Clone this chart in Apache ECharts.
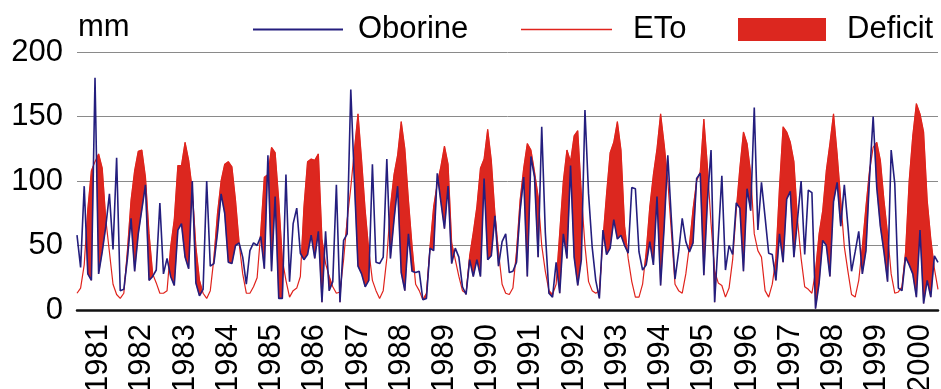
<!DOCTYPE html>
<html>
<head>
<meta charset="utf-8">
<script src="https://cdn.jsdelivr.net/npm/echarts@6/dist/echarts.min.js"></script>
<style>
  html, body { margin: 0; padding: 0; background: #ffffff; }
  #chart { width: 941px; height: 389px; }
</style>
</head>
<body>
<div id="chart"></div>
<script>
// Monthly precipitation (Oborine) and reference evapotranspiration (ETo), mm, 1981-2000
const years = [1981, 1982, 1983, 1984, 1985, 1986, 1987, 1988, 1989, 1990,
               1991, 1992, 1993, 1994, 1995, 1996, 1997, 1998, 1999, 2000];

const oborine = [
  58, 33, 96, 28, 23, 180, 28, 45, 65, 90, 47, 118,
  15, 16, 40, 71, 30, 59, 78, 97, 23, 26, 31, 83,
  28, 40, 26, 19, 62, 67, 41, 32, 100, 21, 11, 16,
  100, 34, 36, 60, 90, 75, 37, 36, 50, 52, 41, 20,
  46, 52, 50, 57, 32, 120, 30, 88, 9, 9, 105, 22,
  67, 79, 44, 39, 43, 58, 40, 61, 6, 61, 15, 22,
  97, 6, 54, 59, 171, 100, 34, 28, 18, 23, 113, 37,
  36, 41, 117, 40, 70, 96, 29, 15, 59, 30, 29, 30,
  8, 9, 48, 46, 106, 84, 63, 96, 36, 48, 41, 18,
  12, 39, 26, 39, 26, 102, 39, 42, 73, 34, 53, 59,
  29, 30, 37, 77, 103, 26, 119, 103, 41, 142, 60, 13,
  10, 37, 13, 59, 40, 112, 41, 19, 39, 155, 90, 49,
  23, 9, 62, 43, 48, 70, 55, 58, 50, 44, 95, 94,
  45, 31, 35, 53, 35, 88, 19, 65, 120, 70, 24, 45,
  71, 53, 45, 52, 102, 106, 27, 85, 124, 6, 55, 104,
  31, 50, 43, 83, 79, 30, 94, 77, 157, 62, 99, 72,
  44, 43, 23, 59, 37, 86, 92, 41, 70, 100, 43, 93,
  91, 1, 21, 54, 50, 26, 84, 99, 65, 97, 65, 30,
  45, 61, 28, 46, 103, 150, 95, 65, 45, 22, 124, 98,
  17, 15, 41, 35, 28, 10, 62, 5, 23, 10, 42, 37
];

const eto = [
  13, 17, 35, 78, 108, 115, 121, 110, 70, 45, 20, 12,
  9, 13, 46, 85, 108, 123, 124, 103, 59, 28, 21, 13,
  13, 15, 49, 70, 112, 112, 130, 116, 93, 49, 23, 13,
  9, 15, 40, 75, 100, 113, 115, 111, 85, 52, 28, 13,
  13, 18, 25, 60, 103, 105, 126, 122, 85, 39, 23, 10,
  15, 17, 26, 80, 115, 117, 116, 121, 55, 36, 26, 18,
  13, 14, 39, 70, 95, 124, 152, 116, 77, 46, 23, 15,
  9, 15, 40, 80, 105, 120, 146, 125, 85, 50, 20, 15,
  8, 13, 49, 80, 98, 111, 127, 113, 52, 39, 26, 15,
  13, 42, 60, 80, 110, 117, 140, 116, 75, 45, 20, 13,
  12, 17, 45, 85, 110, 129, 124, 107, 88, 50, 30, 15,
  12, 20, 60, 100, 124, 115, 135, 139, 90, 50, 22, 15,
  13, 15, 55, 90, 122, 130, 146, 124, 65, 40, 22, 10,
  10, 20, 45, 80, 105, 125, 152, 128, 100, 60, 20, 15,
  13, 28, 50, 78, 100, 107, 148, 111, 67, 30, 21, 19,
  10, 17, 39, 77, 110, 138, 129, 106, 59, 46, 41, 15,
  10, 20, 40, 95, 142, 138, 130, 115, 70, 40, 18, 16,
  13, 30, 59, 77, 108, 129, 152, 121, 85, 49, 30, 12,
  10, 23, 49, 80, 108, 126, 130, 116, 85, 59, 28, 13,
  14, 18, 45, 100, 135, 160, 152, 138, 85, 55, 32, 16
];

const seriesNames = ['Oborine', 'ETo', 'Deficit'];
const unitLabel = 'mm';

// one category per month, e.g. "1981-07"
const months = [];
years.forEach(function (y) {
  for (let m = 1; m <= 12; m++) months.push(y + '-' + (m < 10 ? '0' + m : m));
});

const BLUE = '#241E7E';
const RED = '#E0231C';
const FILL = '#DC271F';
const FONT = "'Liberation Sans', Arial, Helvetica, sans-serif";

// Red area between ETo and precipitation wherever ETo exceeds precipitation.
// Crossing points are interpolated along the ETo segment in pixel space.
function renderDeficit(params, api) {
  if (params.dataIndex !== 0) return null;
  const n = eto.length;
  const polys = [];
  let upper = [], lower = [];
  for (let i = 0; i < n; i++) {
    const d = eto[i] - oborine[i];
    const pe = api.coord([i, eto[i]]);
    const pp = api.coord([i, oborine[i]]);
    if (d > 0) { upper.push(pe); lower.push(pp); }
    if (i < n - 1) {
      const d2 = eto[i + 1] - oborine[i + 1];
      if ((d > 0) !== (d2 > 0)) {
        const t = d / (d - d2);
        const pe2 = api.coord([i + 1, eto[i + 1]]);
        const cross = [pe[0] + t * (pe2[0] - pe[0]), pe[1] + t * (pe2[1] - pe[1])];
        if (d > 0) {
          upper.push(cross);
          polys.push(upper.concat(lower.slice().reverse()));
          upper = []; lower = [];
        } else {
          upper = [cross]; lower = [];
        }
      }
    }
  }
  if (upper.length > 1) polys.push(upper.concat(lower.slice().reverse()));
  return {
    type: 'group',
    children: polys.map(function (pts) {
      return {
        type: 'polygon',
        shape: { points: pts },
        style: { fill: FILL, stroke: FILL, lineWidth: 0.6 }
      };
    })
  };
}

const chart = echarts.init(document.getElementById('chart'), null, { renderer: 'canvas' });

const legendText = { fontFamily: FONT, fontSize: 31, color: '#000' };

chart.setOption({
  animation: false,
  backgroundColor: '#ffffff',
  title: {
    text: unitLabel,
    left: 78, top: 12, padding: 0,
    textStyle: { fontFamily: FONT, fontSize: 31, fontWeight: 'normal', color: '#000' }
  },
  legend: [
    { data: [{ name: seriesNames[0], icon: 'rect', itemStyle: { color: BLUE } }],
      left: 253, top: 14, padding: 0, itemWidth: 90, itemHeight: 2,
      textStyle: Object.assign({ padding: [0, 0, 0, 10] }, legendText) },
    { data: [{ name: seriesNames[1], icon: 'rect', itemStyle: { color: RED } }],
      left: 521, top: 14, padding: 0, itemWidth: 91, itemHeight: 1.5,
      textStyle: Object.assign({ padding: [0, 0, 0, 16] }, legendText) },
    { data: [{ name: seriesNames[2], icon: 'rect', itemStyle: { color: FILL } }],
      left: 738, top: 14, padding: 0, itemWidth: 88, itemHeight: 23,
      textStyle: Object.assign({ padding: [0, 0, 0, 16] }, legendText) }
  ],
  grid: { left: 77, right: 3, top: 52, bottom: 79, containLabel: false, outerBoundsMode: 'none' },
  xAxis: {
    type: 'category',
    data: months,
    boundaryGap: false,
    axisLine: { show: true, lineStyle: { color: '#111', width: 2.5 } },
    axisTick: { show: false },
    splitLine: { show: false },
    axisLabel: {
      rotate: 90,
      margin: 14,
      interval: function (index) { return index % 12 === 6; },
      formatter: function (v) { return v.slice(0, 4); },
      fontFamily: FONT, fontSize: 31, color: '#000'
    }
  },
  yAxis: {
    type: 'value',
    min: 0, max: 200, interval: 50,
    axisLine: { show: false },
    axisTick: { show: false },
    splitLine: { show: true, lineStyle: { color: '#8a8a8a', width: 1 } },
    axisLabel: { margin: 14, fontFamily: FONT, fontSize: 31, color: '#000' }
  },
  series: [
    {
      name: seriesNames[2],
      type: 'custom',
      coordinateSystem: 'cartesian2d',
      data: [[0, 0]],
      encode: { x: 0, y: 1 },
      renderItem: renderDeficit,
      itemStyle: { color: FILL },
      silent: true,
      z: 1
    },
    {
      name: seriesNames[1],
      type: 'line',
      data: eto,
      symbol: 'none',
      lineStyle: { color: RED, width: 1.2 },
      itemStyle: { color: RED },
      z: 2
    },
    {
      name: seriesNames[0],
      type: 'line',
      data: oborine,
      symbol: 'none',
      lineStyle: { color: BLUE, width: 1.6 },
      itemStyle: { color: BLUE },
      z: 3
    }
  ]
});
</script>
</body>
</html>
